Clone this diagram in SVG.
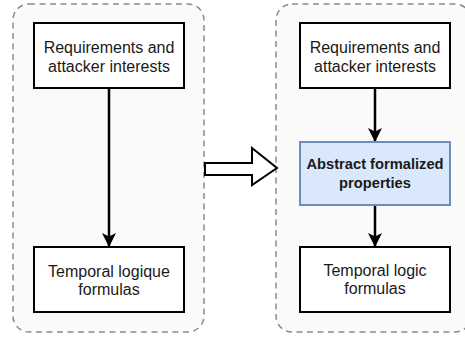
<svg xmlns="http://www.w3.org/2000/svg" width="465" height="337" viewBox="0 0 465 337">
  <style>
    .cont { fill: #fafafa; stroke: #8a8a8a; stroke-width: 1.5; stroke-dasharray: 6 4.5; }
    .box { fill: #ffffff; stroke: #000000; stroke-width: 2; }
    .blue { fill: #dae8fc; stroke: #6c8ebf; stroke-width: 2; }
    .t { font-family: "Liberation Sans", Arial, sans-serif; font-size: 16px; fill: #1a1a1a; text-anchor: middle; }
    .b { font-weight: bold; font-size: 14.7px; }
    .edge { stroke: #000000; stroke-width: 2.5; fill: none; }
  </style>
  <defs>
    <marker id="ah" markerWidth="14" markerHeight="14" refX="13" refY="7" orient="auto" markerUnits="userSpaceOnUse" viewBox="0 0 14 14">
      <path d="M0,0 L14,7 L0,14 L3.5,7 Z" fill="#000"/>
    </marker>
  </defs>
  <g id="container-left">
    <rect class="cont" x="13" y="4" width="191" height="328" rx="16" ry="16"/>
  </g>
  <g id="container-right">
    <rect class="cont" x="276" y="4" width="195" height="328" rx="16" ry="16"/>
  </g>
  <g id="connectors">
    <path class="edge" d="M109,88 L109,246" marker-end="url(#ah)"/>
    <path class="edge" d="M375,88 L375,141" marker-end="url(#ah)"/>
    <path class="edge" d="M375,205 L375,246" marker-end="url(#ah)"/>
    <path d="M205,163 L252,163 L252,148 L277,168 L252,185 L252,175 L205,175 Z" fill="#ffffff" stroke="#000000" stroke-width="2" stroke-linejoin="miter"/>
  </g>
  <g id="left-req">
    <rect class="box" x="34" y="23" width="150" height="65"/>
    <text class="t" x="109" y="53">Requirements and</text>
    <text class="t" x="109" y="72">attacker interests</text>
  </g>
  <g id="left-temporal">
    <rect class="box" x="34" y="247" width="150" height="65"/>
    <text class="t" x="109" y="277">Temporal logique</text>
    <text class="t" x="109" y="295">formulas</text>
  </g>
  <g id="right-req">
    <rect class="box" x="300" y="23" width="150" height="65"/>
    <text class="t" x="375" y="53">Requirements and</text>
    <text class="t" x="375" y="72">attacker interests</text>
  </g>
  <g id="right-abstract">
    <rect class="blue" x="300" y="142" width="150" height="63"/>
    <text class="t b" x="375" y="169">Abstract formalized</text>
    <text class="t b" x="375" y="187.5">properties</text>
  </g>
  <g id="right-temporal">
    <rect class="box" x="300" y="247" width="150" height="65"/>
    <text class="t" x="375" y="276">Temporal logic</text>
    <text class="t" x="375" y="294">formulas</text>
  </g>
</svg>
